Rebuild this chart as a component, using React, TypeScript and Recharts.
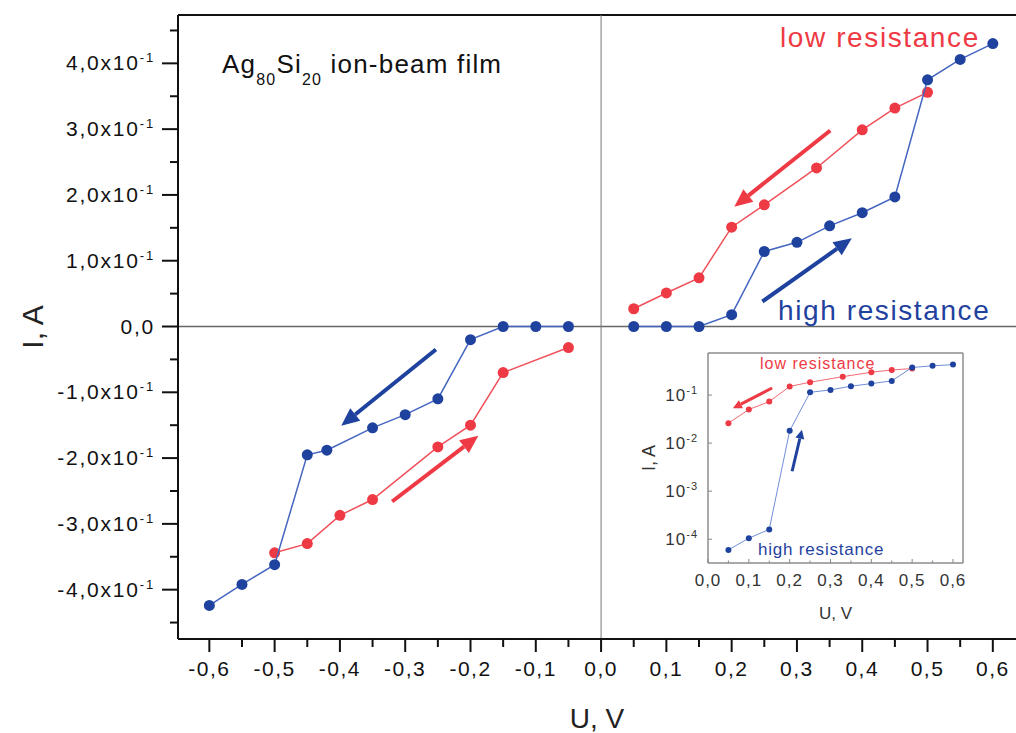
import React from 'react';
import { ScatterChart, Scatter, XAxis, YAxis, ReferenceLine, Label } from 'recharts';

const FONT = '"Liberation Sans", Arial, sans-serif';
const RED = '#ee3a45';
const RED_LINE = '#f0505a';
const BLUE = '#1f429e';
const BLUE_LINE = '#4566c0';

// I-V loop, low resistance state (red)
const lowPosU = [0.05, 0.1, 0.15, 0.2, 0.25, 0.33, 0.4, 0.45, 0.5];
const lowPosI = [0.027, 0.051, 0.074, 0.151, 0.185, 0.241, 0.299, 0.332, 0.356];
const lowNegU = [-0.5, -0.45, -0.4, -0.35, -0.25, -0.2, -0.15, -0.05];
const lowNegI = [-0.344, -0.33, -0.287, -0.263, -0.183, -0.15, -0.07, -0.032];

// high resistance state (blue)
const highPosU = [0.05, 0.1, 0.15, 0.2, 0.25, 0.3, 0.35, 0.4, 0.45, 0.5, 0.55, 0.6];
const highPosI = [0, 0, 0, 0.018, 0.114, 0.128, 0.153, 0.173, 0.197, 0.375, 0.406, 0.43];
const highNegU = [-0.6, -0.55, -0.5, -0.45, -0.42, -0.35, -0.3, -0.25, -0.2, -0.15, -0.1, -0.05];
const highNegI = [-0.424, -0.392, -0.362, -0.195, -0.188, -0.154, -0.134, -0.11, -0.02, 0, 0, 0];

// inset, log scale
const insetLowI = [0.026, 0.05, 0.073, 0.151, 0.185, 0.241, 0.299, 0.332, 0.356];
const insetHighI = [6e-5, 1.05e-4, 1.6e-4, 0.018, 0.114, 0.128, 0.153, 0.173, 0.197, 0.375, 0.406, 0.43];

const xTicks = [-0.6, -0.55, -0.5, -0.45, -0.4, -0.35, -0.3, -0.25, -0.2, -0.15, -0.1, -0.05, 0,
  0.05, 0.1, 0.15, 0.2, 0.25, 0.3, 0.35, 0.4, 0.45, 0.5, 0.55, 0.6];
const yTicks = [-0.45, -0.4, -0.35, -0.3, -0.25, -0.2, -0.15, -0.1, -0.05, 0,
  0.05, 0.1, 0.15, 0.2, 0.25, 0.3, 0.35, 0.4, 0.45];
const insetXTicks = [0, 0.05, 0.1, 0.15, 0.2, 0.25, 0.3, 0.35, 0.4, 0.45, 0.5, 0.55, 0.6];
const insetYTicks = [1e-4, 1e-3, 1e-2, 1e-1];

const mainArrows = [
  { from: [0.351, 0.298], to: [0.204, 0.182], color: RED },
  { from: [0.247, 0.038], to: [0.384, 0.134], color: BLUE },
  { from: [-0.253, -0.035], to: [-0.398, -0.151], color: BLUE },
  { from: [-0.32, -0.266], to: [-0.188, -0.166], color: RED },
];
const insetArrows = [
  { from: [0.157, 0.14], to: [0.061, 0.053], color: RED },
  { from: [0.206, 0.0026], to: [0.23, 0.019], color: BLUE },
];

const X_DOMAIN: [number, number] = [-0.648, 0.6355];
const Y_DOMAIN: [number, number] = [-0.475, 0.4735];
const IX_DOMAIN: [number, number] = [0, 0.6245];
const IY_DOMAIN: [number, number] = [3.2e-5, 0.75];

const zip = (u: number[], i: number[]) => u.map((v, k) => ({ u: v, i: i[k] }));

const isMajor = (v: number) => Math.abs(Math.round(v * 10) - v * 10) < 1e-6;
const comma = (v: number, d: number) => v.toFixed(d).replace('.', ',');

const dot = (r: number, color: string) => (p: any) => (
  <circle cx={p.cx} cy={p.cy} r={r} fill={color} />
);

const arrow = (w: number, len: number, half: number) => (color: string) => (p: any) => {
  const { x1, y1, x2, y2 } = p;
  const a = Math.atan2(y2 - y1, x2 - x1);
  const bx = x2 - len * Math.cos(a);
  const by = y2 - len * Math.sin(a);
  const nx = -Math.sin(a) * half;
  const ny = Math.cos(a) * half;
  return (
    <g>
      <line x1={x1} y1={y1} x2={bx} y2={by} stroke={color} strokeWidth={w} />
      <polygon points={`${x2},${y2} ${bx + nx},${by + ny} ${bx - nx},${by - ny}`} fill={color} />
    </g>
  );
};
const bigArrow = arrow(4, 18, 8);
const smallArrow = arrow(3, 9, 4.5);

const MainXTick = (props: any) => {
  const { x, y, payload } = props;
  const major = isMajor(payload.value);
  return (
    <g>
      <line x1={x} y1={y} x2={x} y2={y + (major ? 13 : 8)} stroke="#111" strokeWidth={2} />
      {major && (
        <text x={x} y={y + 37} textAnchor="middle" fontSize={21} fill="#111" fontFamily={FONT} letterSpacing={1.5}>
          {comma(payload.value, 1)}
        </text>
      )}
    </g>
  );
};

const MainYTick = (props: any) => {
  const { x, y, payload } = props;
  const v = payload.value;
  const major = isMajor(v);
  return (
    <g>
      <line x1={x - (major ? 16 : 8)} y1={y} x2={x} y2={y} stroke="#111" strokeWidth={2} />
      {major && (
        <text x={x - 23} y={y + 7} textAnchor="end" fontSize={21} fill="#111" fontFamily={FONT} letterSpacing={1.8}>
          {v === 0 ? '0,0' : (
            <>
              {comma(v * 10, 1)}x10<tspan dy={-8} fontSize={13}>-1</tspan>
            </>
          )}
        </text>
      )}
    </g>
  );
};

const InsetXTick = (props: any) => {
  const { x, y, payload } = props;
  const major = isMajor(payload.value);
  return (
    <g>
      <line x1={x} y1={y} x2={x} y2={y - (major ? 4 : 2.5)} stroke="#888" strokeWidth={1} />
      {major && (
        <text x={x} y={y + 23} textAnchor="middle" fontSize={17} fill="#333" fontFamily={FONT} letterSpacing={1}>
          {comma(payload.value, 1)}
        </text>
      )}
    </g>
  );
};

const InsetYTick = (props: any) => {
  const { x, y, payload } = props;
  const exp = Math.round(Math.log10(payload.value));
  return (
    <g>
      <line x1={x} y1={y} x2={x + 4} y2={y} stroke="#888" strokeWidth={1} />
      <text x={x - 10} y={y + 6} textAnchor="end" fontSize={17} fill="#333" fontFamily={FONT} letterSpacing={1}>
        10<tspan dy={-7} fontSize={11}>{String(exp)}</tspan>
      </text>
    </g>
  );
};

const MainChart = () => (
  <ScatterChart width={1016} height={733} margin={{ top: 15, right: 0, bottom: 0, left: 0 }}>
    <XAxis type="number" dataKey="u" domain={X_DOMAIN} ticks={xTicks} interval={0} allowDataOverflow
      height={94} tickSize={0} tickMargin={0} tickLine={false} tick={<MainXTick />}
      axisLine={{ stroke: '#111', strokeWidth: 2 }}>
      <Label value="U, V" position="insideBottom" offset={5} style={{ fontSize: 28, fill: '#222', fontFamily: FONT }} />
    </XAxis>
    <YAxis type="number" dataKey="i" domain={Y_DOMAIN} ticks={yTicks} interval={0} allowDataOverflow
      width={178} tickSize={0} tickMargin={0} tickLine={false} tick={<MainYTick />}
      axisLine={{ stroke: '#111', strokeWidth: 2 }}>
      <Label value="I, A" angle={-90} position="insideLeft" offset={32}
        style={{ textAnchor: 'middle', fontSize: 30, fill: '#222', fontFamily: FONT }} />
    </YAxis>
    <ReferenceLine y={Y_DOMAIN[1]} stroke="#111" strokeWidth={2} />
    <ReferenceLine y={0} stroke="#666" strokeWidth={1.5} />
    <ReferenceLine x={0} stroke="#777" strokeWidth={1} />
    <Scatter data={zip(lowPosU, lowPosI)} isAnimationActive={false} fill={RED}
      line={{ stroke: RED_LINE, strokeWidth: 1.5 }} shape={dot(5.5, RED)} />
    <Scatter data={zip(lowNegU, lowNegI)} isAnimationActive={false} fill={RED}
      line={{ stroke: RED_LINE, strokeWidth: 1.5 }} shape={dot(5.5, RED)} />
    <Scatter data={zip(highPosU, highPosI)} isAnimationActive={false} fill={BLUE}
      line={{ stroke: BLUE_LINE, strokeWidth: 1.5 }} shape={dot(5.5, BLUE)} />
    <Scatter data={zip(highNegU, highNegI)} isAnimationActive={false} fill={BLUE}
      line={{ stroke: BLUE_LINE, strokeWidth: 1.5 }} shape={dot(5.5, BLUE)} />
    {mainArrows.map((a, k) => (
      <ReferenceLine key={k} segment={[{ x: a.from[0], y: a.from[1] }, { x: a.to[0], y: a.to[1] }]}
        shape={bigArrow(a.color)} />
    ))}
  </ScatterChart>
);

const InsetChart = () => (
  <ScatterChart width={386} height={285} margin={{ top: 13, right: 53, bottom: 0, left: 0 }}>
    <XAxis type="number" dataKey="u" domain={IX_DOMAIN} ticks={insetXTicks} interval={0} allowDataOverflow
      height={62} tickSize={0} tickMargin={0} tickLine={false} tick={<InsetXTick />}
      axisLine={{ stroke: '#8c8c8c', strokeWidth: 1.5 }}>
      <Label value="U, V" position="insideBottom" offset={6} style={{ fontSize: 17, fill: '#333', fontFamily: FONT }} />
    </XAxis>
    <YAxis type="number" dataKey="i" scale="log" domain={IY_DOMAIN} ticks={insetYTicks} interval={0} allowDataOverflow
      width={78} tickSize={0} tickMargin={0} tickLine={false} tick={<InsetYTick />}
      axisLine={{ stroke: '#8c8c8c', strokeWidth: 1.5 }}>
      <Label value="I, A" angle={-90} position="insideLeft" offset={19}
        style={{ textAnchor: 'middle', fontSize: 18, fill: '#333', fontFamily: FONT }} />
    </YAxis>
    <ReferenceLine y={IY_DOMAIN[1]} stroke="#8c8c8c" strokeWidth={1.5} />
    <ReferenceLine x={IX_DOMAIN[1]} stroke="#8c8c8c" strokeWidth={1.5} />
    <Scatter data={zip(lowPosU, insetLowI)} isAnimationActive={false} fill={RED}
      line={{ stroke: '#f26a72', strokeWidth: 1 }} shape={dot(3, RED)} />
    <Scatter data={zip(highPosU, insetHighI)} isAnimationActive={false} fill={BLUE}
      line={{ stroke: '#6f8ed8', strokeWidth: 1 }} shape={dot(3, BLUE)} />
    {insetArrows.map((a, k) => (
      <ReferenceLine key={k} segment={[{ x: a.from[0], y: a.from[1] }, { x: a.to[0], y: a.to[1] }]}
        shape={smallArrow(a.color)} />
    ))}
  </ScatterChart>
);

export default function App() {
  return (
    <div style={{ position: 'absolute', left: 0, top: 0, width: 1016, height: 733, background: '#fff', fontFamily: FONT, overflow: 'hidden' }}>
      <div style={{ position: 'absolute', left: 0, top: 0 }}>
        <MainChart />
      </div>
      <div style={{ position: 'absolute', left: 630, top: 340 }}>
        <InsetChart />
      </div>
      <svg width={1016} height={733} style={{ position: 'absolute', left: 0, top: 0, pointerEvents: 'none' }}>
        <text x={222} y={73} fontSize={26} fill="#111" fontFamily={FONT} letterSpacing={1.2}>
          Ag<tspan dy={12} fontSize={16}>80</tspan><tspan dy={-12}>Si</tspan><tspan dy={12} fontSize={16}>20</tspan><tspan dy={-12}> ion-beam film</tspan>
        </text>
        <text x={780} y={47} fontSize={28} fill={RED} fontFamily={FONT} letterSpacing={1.6}>low resistance</text>
        <text x={778} y={320} fontSize={28} fill={BLUE} fontFamily={FONT} letterSpacing={1.6}>high resistance</text>
        <text x={760} y={369} fontSize={16} fill={RED} fontFamily={FONT} letterSpacing={1}>low resistance</text>
        <text x={758} y={555} fontSize={17} fill={BLUE} fontFamily={FONT} letterSpacing={0.8}>high resistance</text>
      </svg>
    </div>
  );
}
